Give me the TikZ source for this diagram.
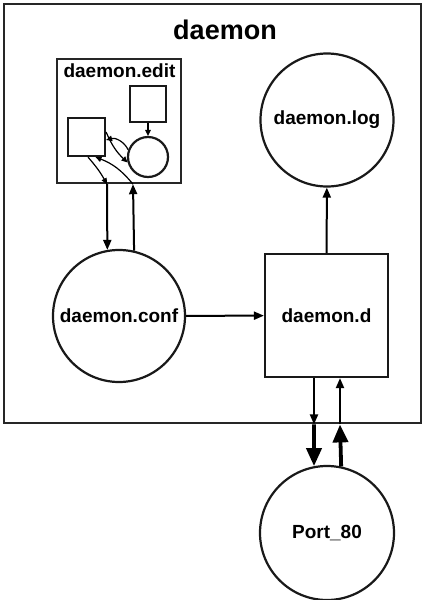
\documentclass[tikz,border=0pt]{standalone}
\usepackage{fontspec}
\setmainfont{Liberation Sans}
\usetikzlibrary{arrows.meta,positioning}

\begin{document}
\begin{tikzpicture}[x=1pt,y=-1pt, frame/.style={draw=black!85,line width=2.8pt,inner sep=0pt}, store/.style={draw=black!90,line width=2.2pt,inner sep=0pt,align=center,font=\fontsize{19}{22}\selectfont\bfseries}, proc/.style={store,circle}, label/.style={font=\fontsize{19}{22}\selectfont\bfseries,inner sep=0pt}, flow/.style={-{Triangle[length=10pt,width=8pt]},line width=2pt}, tiny/.style={-{Triangle[length=6pt,width=5.5pt]},line width=1.2pt}, pipe/.style={-{Triangle[length=18pt,width=15pt]},line width=3.8pt}]
\useasboundingbox (0,0) rectangle (426,600);
\node[frame,minimum width=417pt,minimum height=419pt] (daemon) at (212.5,213.5) {};
\node[font=\fontsize{27}{30}\selectfont\bfseries] (title) at (225,30) {daemon};
\node[frame,line width=2.4pt,minimum width=124pt,minimum height=124pt] (edit) at (119,121) {};
\node[label] (editname) at (119.5,71) {daemon.edit};
\node[store,minimum width=37pt,minimum height=38pt] (src) at (86.5,137) {};
\node[store,minimum size=36pt] (tmp) at (148,104) {};
\node[proc,minimum size=40pt] (chk) at (148,157) {};
\node[proc,minimum size=132pt] (conf) at (119,316) {daemon.conf};
\node[proc,minimum size=133pt] (log) at (327,120) {daemon.log};
\node[store,minimum size=123pt] (d) at (326.5,315.5) {daemon.d};
\node[proc,minimum size=134pt] (port) at (327,533) {Port\_80};
\draw[tiny] (tmp) -- (chk);
\draw[tiny] (chk.160) to[bend right=40] ([yshift=-3pt]src.east);
\draw[tiny] ([yshift=5pt]src.east) to[bend right=12] (chk.195);
\draw[tiny] ([xshift=1.5pt]src.south) to[bend left=6] ([xshift=-12pt]edit.south);
\draw[tiny] ([xshift=14pt]edit.south) to[bend right=15] ([xshift=9pt]src.south);
\draw[flow] ([xshift=-12pt]edit.south) -- (conf.100.5);
\draw[flow] (conf.77.8) -- ([xshift=14pt]edit.south);
\draw[flow] (conf) -- (d);
\draw[flow] (d) -- (log);
\draw[flow] ([xshift=-12.5pt]d.south) -- ([xshift=-12.5pt]d.south |- daemon.south);
\draw[pipe] ([xshift=-12.5pt]d.south |- daemon.south) -- (port.101.2);
\draw[pipe] (port.78.8) -- ([xshift=13.5pt]d.south |- daemon.south);
\draw[flow] ([xshift=13.5pt]d.south |- daemon.south) -- ([xshift=13.5pt]d.south);
\end{tikzpicture}
\end{document}
